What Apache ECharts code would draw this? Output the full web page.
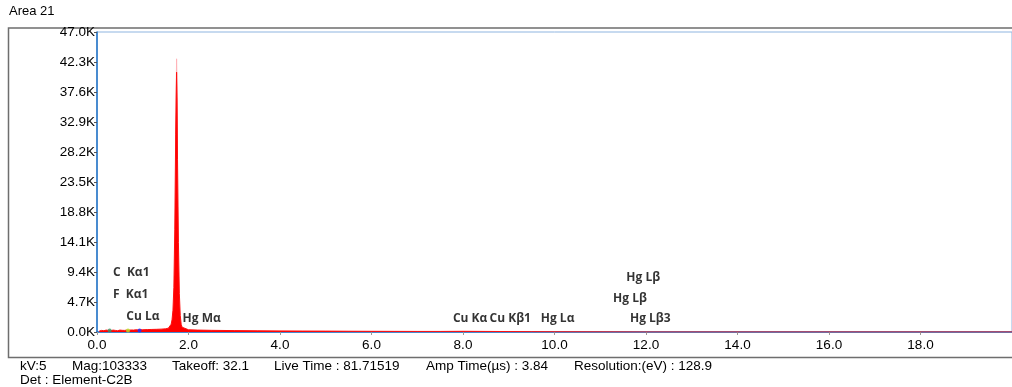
<!DOCTYPE html>
<html>
<head>
<meta charset="utf-8">
<script src="https://cdn.jsdelivr.net/npm/echarts@6/dist/echarts.min.js"></script>
<style>html,body{margin:0;padding:0;background:#fff}#c{width:1012px;height:387px}</style>
</head>
<body>
<div id="c"></div>
<script>
// Spectrum (energy in keV, counts)
const energy = [0.05,0.10,0.15,0.20,0.25,0.30,0.35,0.40,0.45,0.50,0.55,0.60,0.65,0.70,0.75,0.80,0.85,0.90,0.95,1.00,1.10,1.20,1.30,1.40,1.50,1.56,1.60,1.62,1.64,1.66,1.68,1.70,1.72,1.73,1.74,1.75,1.76,1.78,1.80,1.82,1.84,1.86,1.90,2.00,2.20,2.50,3.00,3.50,4.00,4.50,5.00,5.50,6.00,6.50,7.00,7.50,8.00,8.50,9.00,9.50,10.00,12.00,16.00,20.00];
const counts = [150,250,200,300,250,200,300,250,200,300,260,250,300,280,320,300,350,330,360,350,380,400,420,450,500,600,800,1200,1900,3400,7000,16000,31000,36500,40700,36500,27000,14000,6000,2600,1200,750,450,350,300,260,220,190,170,150,140,120,110,100,90,90,110,90,70,50,30,0,0,0];
// light overlay reaching the top of the main peak
const overlayEnergy = [1.72,1.73,1.74,1.75,1.76];
const overlayCounts = [30000,38000,42800,38000,26000];
// element line markers
const markerNames = ['C Kα1','F Kα1','Cu Lα'];
const markerEnergy = [0.277,0.677,0.93];
const markerCounts = [250,250,250];
const markerColors = ['#3f8f5f','#b7e21f','#1f2fff'];
// peak labels (energy of left edge, height in counts)
const labelTexts = ['C  Kα1','F  Kα1','Cu Lα','Hg Mα','Cu Kα','Cu Kβ1','Hg Lα','Hg Lβ','Hg Lβ','Hg Lβ3'];
const labelEnergy = [0.35,0.35,0.64,1.87,7.78,8.58,9.70,11.57,11.28,11.65];
const labelCounts = [9250,5800,2400,2050,2050,2050,2050,8600,5300,2050];
// axis ticks
const yTicks = [0,4700,9400,14100,18800,23500,28200,32900,37600,42300,47000];
const xMin = 0, xMax = 20, xStep = 2;
const footer1 = [['kV:5',20],['Mag:103333',72],['Takeoff: 32.1',172],['Live Time : 81.71519',274],['Amp Time(µs) : 3.84',426],['Resolution:(eV) : 128.9',574]];
const footer2 = 'Det : Element-C2B';
const title = 'Area 21';

const chart = echarts.init(document.getElementById('c'), null, {renderer:'canvas'});
const font = '"Liberation Sans", Arial, sans-serif';
const graphics = [
  {type:'text', left:9, top:5, style:{text:title, font:'13px '+font, fill:'#000'}},
  {type:'rect', shape:{x:8.5, y:28, width:1020, height:329.5}, style:{fill:'none', stroke:'#6e6e6e', lineWidth:1.5}, silent:true, z:-1},
  {type:'text', left:20, top:373, style:{text:footer2, font:'13.5px '+font, fill:'#000'}}
];
footer1.forEach(f => graphics.push({type:'text', left:f[1], top:359, style:{text:f[0], font:'13.5px '+font, fill:'#000'}}));

chart.setOption({
  animation:false,
  grid:{left:97, top:32, width:920, height:300, show:true, borderColor:'#8fb5e0', borderWidth:1, backgroundColor:'transparent'},
  xAxis:{type:'value', min:xMin, max:xMax, interval:xStep,
    axisLine:{lineStyle:{color:'#1f72c6', width:1.5}},
    axisTick:{show:true, length:3, lineStyle:{color:'#999'}},
    splitLine:{show:false},
    axisLabel:{color:'#000', fontSize:13.5, fontFamily:font, margin:6,
      formatter:v => v.toFixed(1), showMaxLabel:false}},
  yAxis:{type:'value', min:0, max:47000, interval:4700,
    axisLine:{show:true, lineStyle:{color:'#1f72c6', width:1.5}},
    axisTick:{show:true, length:3, lineStyle:{color:'#555'}},
    splitLine:{show:false},
    axisLabel:{color:'#000', fontSize:13.5, fontFamily:font, margin:2,
      formatter:v => (v/1000).toFixed(1)+'K'}},
  graphic:graphics,
  series:[
    {type:'line', data:overlayEnergy.map((e,i)=>[e,overlayCounts[i]]), symbol:'none',
      lineStyle:{color:'#ffb3b8', width:1}, areaStyle:{color:'#ffc2c6', opacity:1}, z:1},
    {type:'line', data:energy.map((e,i)=>[e,counts[i]]), symbol:'none',
      lineStyle:{color:'#ff1010', width:1}, areaStyle:{color:'#ff0000', opacity:1}, z:2},
    {type:'scatter', data:markerEnergy.map((e,i)=>({value:[e,markerCounts[i]], name:markerNames[i], itemStyle:{color:markerColors[i]}})),
      symbolSize:4, z:3},
    {type:'scatter', symbolSize:0, z:4,
      data:labelEnergy.map((e,i)=>({value:[e,labelCounts[i]], label:{show:true, formatter:labelTexts[i]}})),
      label:{show:true, position:'right', distance:0, color:'#000', fontSize:12, fontWeight:'bold', fontFamily:'"Open Sans", "Noto Sans", sans-serif'}}
  ]
});
</script>
</body>
</html>
